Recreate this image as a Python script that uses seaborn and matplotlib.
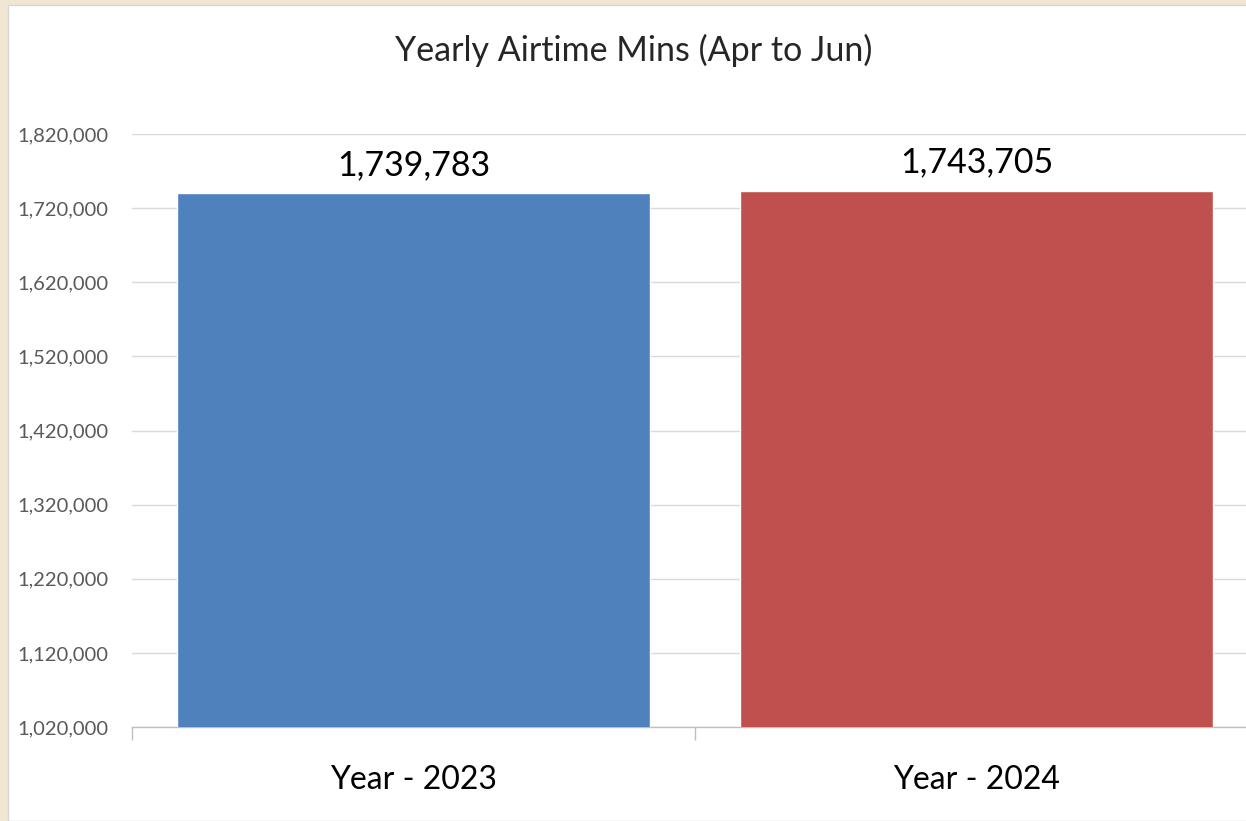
import matplotlib
matplotlib.use("Agg")
import matplotlib.pyplot as plt
import matplotlib.ticker as mticker
from matplotlib.patches import Rectangle
import seaborn as sns

# data
years = ['Year - 2023', 'Year - 2024']
airtime_mins = [1739783, 1743705]
bar_colors = ['#4F81BD', '#C0504D']

sns.set_theme(style='white')
plt.rcParams['font.family'] = ['Lato', 'DejaVu Sans']

fig = plt.figure(figsize=(12.46, 8.21), dpi=100)
fig.patch.set_facecolor('#F1E6D2')
# white chart panel on top of the beige page
fig.patches.append(Rectangle((8 / 1246, 0), 1.0, 1 - 5 / 821, transform=fig.transFigure,
                             facecolor='white', edgecolor='#D6D6D6', linewidth=1, zorder=-5))

ax = fig.add_axes([132 / 1246, 1 - 727 / 821, 1126 / 1246, 593 / 821])
ax.set_facecolor('none')

sns.barplot(x=years, y=airtime_mins, hue=years, palette=bar_colors, width=0.84,
            legend=False, ax=ax, saturation=1, zorder=3)

ax.set_ylim(1020000, 1820000)
ax.set_xlim(-0.5, 1.5)
ax.yaxis.set_major_locator(mticker.MultipleLocator(100000, offset=20000))
ax.yaxis.set_major_formatter(mticker.StrMethodFormatter('{x:,.0f}'))
ax.grid(axis='y', color='#D9D9D9', linewidth=1, zorder=0)
ax.set_axisbelow(True)

for s in ['top', 'right', 'left']:
    ax.spines[s].set_visible(False)
ax.spines['bottom'].set_color('#BFBFBF')
ax.spines['bottom'].set_linewidth(1)

ax.tick_params(axis='y', length=0, labelsize=14.5, labelcolor='#595959', pad=17)
ax.tick_params(axis='x', which='major', length=0, labelsize=23, labelcolor='black', pad=27)
# category separator ticks below the axis line
ax.set_xticks([-0.5, 0.5, 1.5], minor=True)
ax.tick_params(axis='x', which='minor', bottom=True, direction='out', length=9,
               color='#BFBFBF', width=1)

for cont in ax.containers:
    ax.bar_label(cont, fmt='{:,.0f}', padding=9, fontsize=24.5, color='black')

ax.set_xlabel('')
ax.set_ylabel('')
fig.text(634 / 1246, 1 - 50 / 821, 'Yearly Airtime Mins (Apr to Jun)', ha='center', va='center',
         fontsize=24.5, color='#262626')

fig.savefig('out.png', dpi=100, facecolor=fig.get_facecolor())
